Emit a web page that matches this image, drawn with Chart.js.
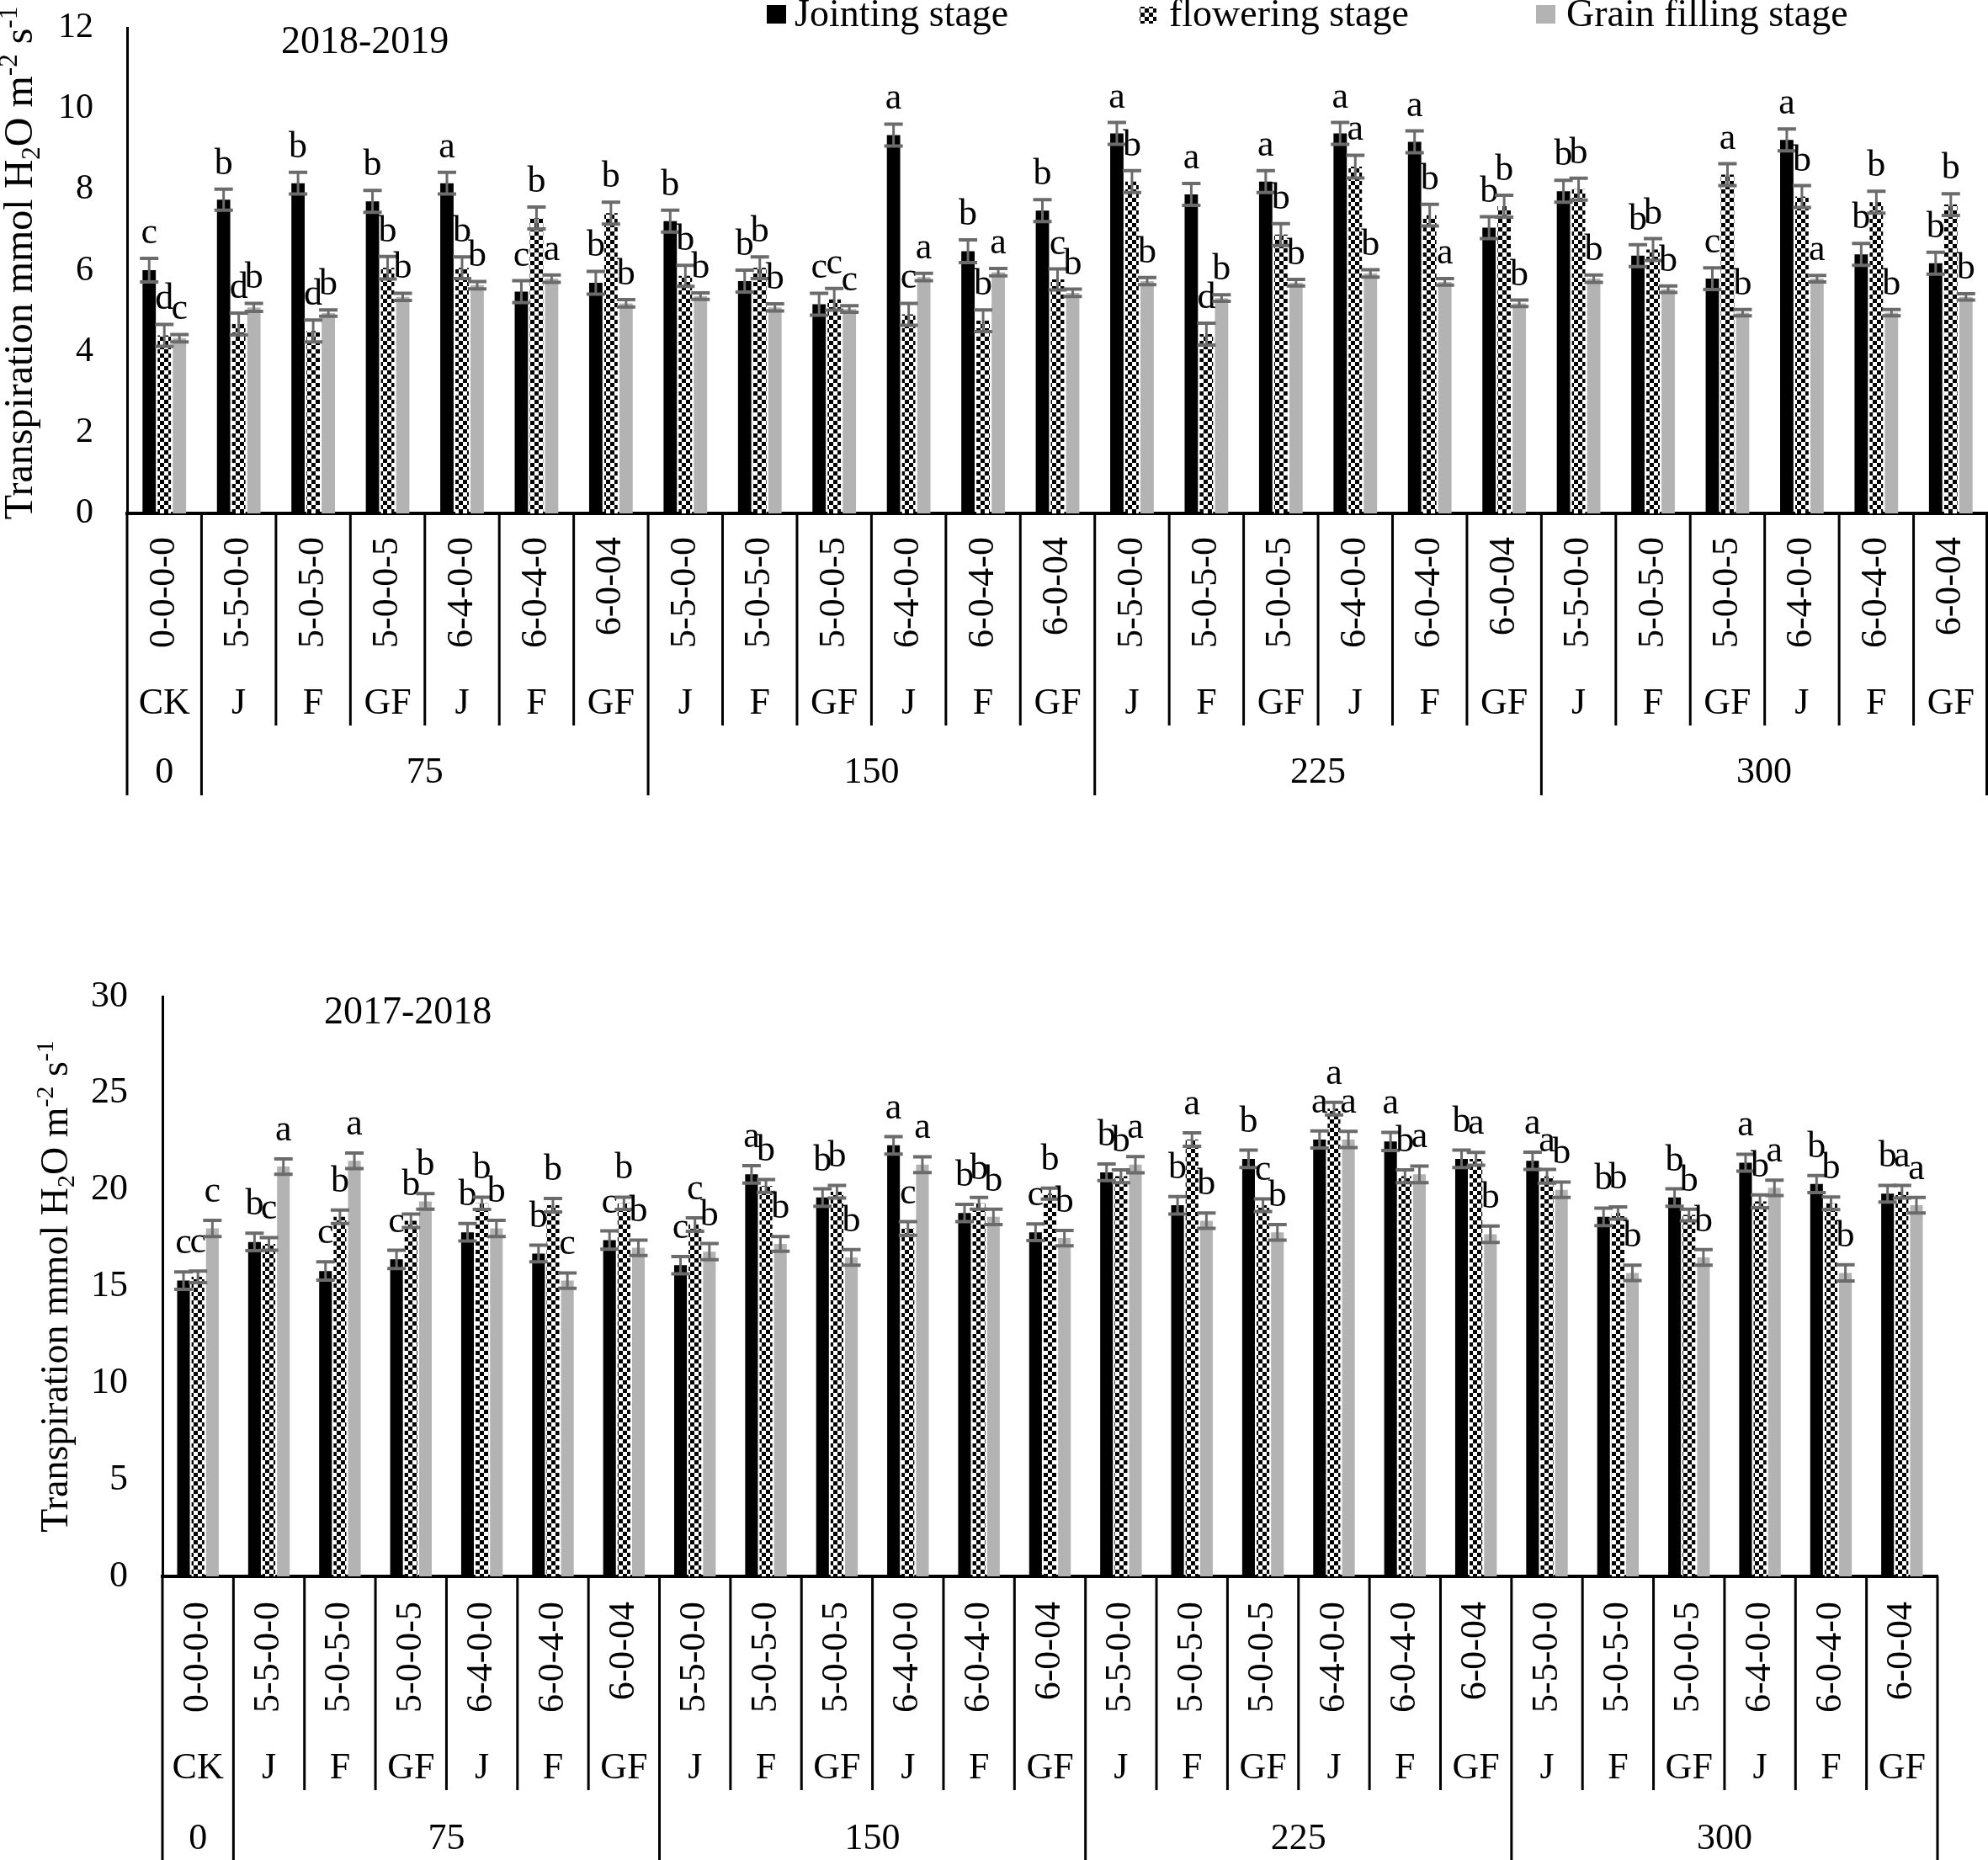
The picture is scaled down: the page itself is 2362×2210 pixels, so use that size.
<!DOCTYPE html>
<html>
<head>
<meta charset="utf-8">
<script src="https://cdn.jsdelivr.net/npm/chart.js@4.4.1/dist/chart.umd.min.js"></script>
<style>
html,body{margin:0;padding:0;background:#fff;}
body{width:2362px;height:2210px;position:relative;overflow:hidden;}
canvas{position:absolute;left:0;display:block;}
#c1{top:0;}
#c2{top:1150px;}
</style>
</head>
<body>
<canvas id="c1" width="2362" height="945"></canvas>
<canvas id="c2" width="2362" height="1060"></canvas>
<script>
// ---------------- DATA ----------------
const treatmentLabels = ['0-0-0-0',
  '5-5-0-0','5-0-5-0','5-0-0-5','6-4-0-0','6-0-4-0','6-0-04',
  '5-5-0-0','5-0-5-0','5-0-0-5','6-4-0-0','6-0-4-0','6-0-04',
  '5-5-0-0','5-0-5-0','5-0-0-5','6-4-0-0','6-0-4-0','6-0-04',
  '5-5-0-0','5-0-5-0','5-0-0-5','6-4-0-0','6-0-4-0','6-0-04'];
const stageLabels = ['CK',
  'J','F','GF','J','F','GF',
  'J','F','GF','J','F','GF',
  'J','F','GF','J','F','GF',
  'J','F','GF','J','F','GF'];
const nitrogenGroupLabels = ['0','75','150','225','300'];
const nitrogenGroupSizes = [1,6,6,6,6];
const seriesNames = ['Jointing stage','flowering stage','Grain filling stage'];

// 2018-2019
const y1819Jointing  = [6.01,7.75,8.16,7.71,8.16,5.48,5.70,7.22,5.74,5.17,9.35,6.48,7.48,9.39,7.88,8.20,9.39,9.18,7.06,7.96,6.37,5.80,9.23,6.40,6.18];
const y1819Flowering = [4.40,4.68,4.51,6.07,6.07,7.30,7.42,5.87,6.07,5.29,4.92,4.76,5.78,8.20,4.43,6.89,8.57,7.37,7.59,8.01,6.52,8.37,7.83,7.69,7.63];
const y1819Grain     = [4.33,5.09,4.95,5.35,5.64,5.80,5.19,5.37,5.09,5.05,5.84,5.96,5.45,5.74,5.32,5.70,5.93,5.72,5.19,5.80,5.54,4.96,5.80,4.96,5.35];
const e1819Jointing  = [0.29,0.26,0.27,0.27,0.27,0.27,0.28,0.27,0.27,0.27,0.27,0.28,0.27,0.27,0.27,0.27,0.27,0.27,0.27,0.27,0.27,0.27,0.27,0.27,0.27];
const e1819Flowering = [0.27,0.27,0.27,0.28,0.27,0.27,0.27,0.26,0.27,0.27,0.27,0.27,0.26,0.27,0.27,0.27,0.28,0.27,0.27,0.27,0.27,0.27,0.27,0.27,0.27];
const e1819Grain     = [0.09,0.10,0.08,0.09,0.09,0.09,0.09,0.08,0.09,0.08,0.09,0.09,0.09,0.09,0.08,0.08,0.09,0.08,0.08,0.09,0.08,0.08,0.08,0.08,0.08];
const l1819Jointing  = ['c','b','b','b','a','c','b','b','b','c','a','b','b','a','a','a','a','a','b','b','b','c','a','b','b'];
const l1819Flowering = ['d','d','d','b','b','b','b','b','b','c','c','b','c','b','d','b','a','b','b','b','b','a','b','b','b'];
const l1819Grain     = ['c','b','b','b','b','a','b','b','b','c','a','a','b','b','b','b','b','a','b','b','b','b','a','b','b'];

// 2017-2018
const y1718Jointing  = [15.3,17.3,15.8,16.4,17.8,16.7,17.4,16.1,20.8,19.6,22.3,18.8,17.8,20.9,19.2,21.6,22.6,22.5,21.6,21.5,18.6,19.6,21.4,20.3,19.8];
const y1718Flowering = [15.5,17.2,18.6,18.4,19.3,19.2,19.3,18.2,20.2,19.9,18.0,19.3,19.8,20.7,22.6,19.2,24.2,20.7,21.6,20.7,18.8,18.7,19.4,19.3,19.9];
const y1718Grain     = [18.0,21.2,21.5,19.4,18.0,15.3,17.0,16.8,17.2,16.5,21.3,18.6,17.5,21.3,18.4,17.8,22.6,20.8,17.7,20.0,15.7,16.5,20.1,15.7,19.2];
const e1718Jointing  = [0.45,0.45,0.47,0.47,0.45,0.43,0.47,0.45,0.45,0.45,0.45,0.45,0.43,0.43,0.45,0.45,0.44,0.47,0.45,0.45,0.45,0.45,0.44,0.44,0.43];
const e1718Flowering = [0.30,0.33,0.35,0.35,0.32,0.35,0.32,0.35,0.33,0.33,0.35,0.30,0.28,0.33,0.35,0.33,0.33,0.33,0.33,0.35,0.32,0.30,0.33,0.33,0.33];
const e1718Grain     = [0.42,0.40,0.40,0.40,0.42,0.40,0.40,0.42,0.38,0.40,0.41,0.40,0.40,0.42,0.40,0.40,0.42,0.43,0.42,0.40,0.40,0.40,0.40,0.42,0.40];
const l1718Jointing  = ['c','b','c','c','b','b','c','c','a','b','a','b','c','b','b','b','a','a','b','a','b','b','a','b','b'];
const l1718Flowering = ['c','c','b','b','b','b','b','c','b','b','c','b','b','b','a','c','a','b','a','a','b','b','b','b','a'];
const l1718Grain     = ['c','a','a','b','b','c','b','b','b','b','a','b','b','a','b','b','a','a','b','b','b','b','a','b','a'];

// ---------------- STYLE / PLUGINS ----------------
const FONT = '"Liberation Serif", "Times New Roman", serif';
Chart.defaults.font.family = FONT;
Chart.defaults.color = '#000';

function checkerPattern(ctx) {
  const t = document.createElement('canvas');
  t.width = 10; t.height = 10;
  const g = t.getContext('2d');
  g.fillStyle = '#fff'; g.fillRect(0,0,10,10);
  g.fillStyle = '#000'; g.fillRect(0,0,5,5); g.fillRect(5,5,5,5);
  return ctx.createPattern(t, 'repeat');
}

const errorLetterPlugin = {
  id: 'errLetters',
  afterDatasetsDraw(chart, args, o) {
    const ctx = chart.ctx, y = chart.scales.y;
    chart.data.datasets.forEach((ds, di) => {
      const meta = chart.getDatasetMeta(di);
      meta.data.forEach((bar, i) => {
        const v = ds.data[i], e = ds.errors[i];
        const yt = y.getPixelForValue(v + e), yb = y.getPixelForValue(v - e);
        const cw = o.capWidth / 2;
        ctx.save();
        ctx.strokeStyle = '#6b6b6b';
        ctx.lineWidth = 3;
        ctx.beginPath(); ctx.moveTo(bar.x, yt); ctx.lineTo(bar.x, yb); ctx.stroke();
        ctx.lineWidth = 4;
        ctx.beginPath();
        ctx.moveTo(bar.x - cw, yt); ctx.lineTo(bar.x + cw, yt);
        ctx.moveTo(bar.x - cw, yb); ctx.lineTo(bar.x + cw, yb);
        ctx.stroke();
        ctx.fillStyle = '#000';
        ctx.font = o.letterSize + 'px ' + FONT;
        ctx.textAlign = 'center';
        ctx.textBaseline = 'alphabetic';
        ctx.fillText(ds.letters[i], bar.x, yt - o.letterGap);
        ctx.restore();
      });
    });
  }
};

const tablePlugin = {
  id: 'xTable',
  afterDraw(chart, args, o) {
    const ctx = chart.ctx, x = chart.scales.x;
    const n = chart.data.labels.length;
    const axisY = chart.chartArea.bottom;
    const right = Math.min(x.right, chart.width - 1.5);
    const edge = i => i === 0 ? x.left : (i === n ? right : (x.getPixelForValue(i - 1) + x.getPixelForValue(i)) / 2);
    const groupEdges = new Set([0]);
    let acc = 0;
    nitrogenGroupSizes.forEach(s => { acc += s; groupEdges.add(acc); });
    ctx.save();
    ctx.strokeStyle = '#000';
    ctx.lineWidth = 3;
    for (let i = 0; i <= n; i++) {
      const xx = edge(i);
      ctx.beginPath();
      ctx.moveTo(xx, axisY);
      ctx.lineTo(xx, groupEdges.has(i) ? o.bottom : o.stageBottom);
      ctx.stroke();
    }
    ctx.fillStyle = '#000';
    ctx.font = o.size + 'px ' + FONT;
    ctx.textAlign = 'center';
    ctx.textBaseline = 'alphabetic';
    stageLabels.forEach((s, i) => ctx.fillText(s, x.getPixelForValue(i), o.stageBase));
    acc = 0;
    nitrogenGroupLabels.forEach((g, k) => {
      const a = edge(acc), b = edge(acc + nitrogenGroupSizes[k]);
      ctx.fillText(g, (a + b) / 2, o.groupBase);
      acc += nitrogenGroupSizes[k];
    });
    ctx.restore();
  }
};

const yTitlePlugin = {
  id: 'richYTitle',
  afterDraw(chart, args, o) {
    const ctx = chart.ctx, ca = chart.chartArea;
    const big = o.size, small = Math.round(o.size * 0.65);
    const parts = [['Transpiration mmol H', 0], ['2', -1], ['O m', 0], ['-2', 1], [' s', 0], ['-1', 1]];
    ctx.save();
    let total = 0;
    const widths = parts.map(p => {
      ctx.font = (p[1] ? small : big) + 'px ' + FONT;
      const w = ctx.measureText(p[0]).width; total += w; return w;
    });
    ctx.translate(o.x, (ca.top + ca.bottom) / 2 + o.dy);
    ctx.rotate(-Math.PI / 2);
    ctx.fillStyle = '#000';
    ctx.textAlign = 'left';
    ctx.textBaseline = 'alphabetic';
    let cx = -total / 2;
    parts.forEach((p, k) => {
      ctx.font = (p[1] ? small : big) + 'px ' + FONT;
      const off = p[1] === -1 ? big * 0.18 : (p[1] === 1 ? -big * 0.38 : 0);
      ctx.fillText(p[0], cx, off);
      cx += widths[k];
    });
    ctx.restore();
  }
};

const legendAndYearPlugin = {
  id: 'legendYear',
  afterDraw(chart, args, o) {
    const ctx = chart.ctx;
    ctx.save();
    ctx.fillStyle = '#000';
    ctx.textAlign = 'left';
    ctx.textBaseline = 'alphabetic';
    ctx.font = o.yearSize + 'px ' + FONT;
    ctx.fillText(o.year, o.yearX, o.yearBase);
    if (o.items) {
      chart.data.datasets.forEach((ds, i) => {
        const it = o.items[i];
        ctx.fillStyle = ds.backgroundColor;
        ctx.fillRect(it.x, it.y, it.w, it.h);
        ctx.fillStyle = '#000';
        ctx.font = o.legendSize + 'px ' + FONT;
        ctx.fillText(ds.label, it.tx, o.legendBase);
      });
    }
    ctx.restore();
  }
};

function buildChart(id, d, L) {
  const canvas = document.getElementById(id);
  const ctx = canvas.getContext('2d');
  const pattern = checkerPattern(ctx);
  return new Chart(ctx, {
    type: 'bar',
    data: {
      labels: treatmentLabels,
      datasets: [
        { label: seriesNames[0], data: d.j, errors: d.ej, letters: d.lj, backgroundColor: '#000000' },
        { label: seriesNames[1], data: d.f, errors: d.ef, letters: d.lf, backgroundColor: pattern },
        { label: seriesNames[2], data: d.g, errors: d.eg, letters: d.lg, backgroundColor: '#b3b3b3' }
      ]
    },
    options: {
      responsive: false,
      animation: false,
      devicePixelRatio: 1,
      layout: { padding: { top: L.top, right: L.right, left: 0, bottom: 0 } },
      datasets: { bar: { categoryPercentage: 0.61, barPercentage: 0.88, borderWidth: 0 } },
      scales: {
        x: {
          grid: { display: false, drawTicks: false },
          border: { display: true, color: '#000', width: 4 },
          ticks: { autoSkip: false, minRotation: 90, maxRotation: 90, padding: L.tickPad,
                   font: { size: 44, family: FONT }, color: '#000' },
          afterFit(s) { s.height = L.xHeight; s.paddingLeft = 0; s.paddingRight = 0; }
        },
        y: {
          min: 0, max: L.yMax,
          grid: { display: false, drawTicks: false },
          border: { display: true, color: '#000', width: 3 },
          ticks: { stepSize: L.yStep, padding: L.yPad, font: { size: L.yFont, family: FONT }, color: '#000' },
          afterFit(s) { s.width = L.yWidth; s.paddingTop = 0; s.paddingBottom = 0; }
        }
      },
      plugins: {
        legend: { display: false },
        tooltip: { enabled: false },
        errLetters: { capWidth: 22, letterSize: 44, letterGap: L.letterGap },
        xTable: L.table,
        richYTitle: L.title,
        legendYear: L.legendYear
      }
    },
    plugins: [errorLetterPlugin, tablePlugin, yTitlePlugin, legendAndYearPlugin]
  });
}

buildChart('c1',
  { j: y1819Jointing, f: y1819Flowering, g: y1819Grain,
    ej: e1819Jointing, ef: e1819Flowering, eg: e1819Grain,
    lj: l1819Jointing, lf: l1819Flowering, lg: l1819Grain },
  { top: 33, right: 0, xHeight: 335, yWidth: 151, yMax: 12, yStep: 2, yPad: 40, yFont: 42,
    tickPad: 28, letterGap: 18,
    table: { stageBottom: 862, bottom: 945, stageBase: 848, groupBase: 930, size: 44 },
    title: { x: 38, dy: -9, size: 48 },
    legendYear: { year: '2018-2019', yearX: 334, yearBase: 63, yearSize: 46,
      legendSize: 46, legendBase: 31,
      items: [ { x: 911, y: 6, w: 23, h: 22, tx: 944 },
               { x: 1354, y: 8, w: 20, h: 20, tx: 1389 },
               { x: 1825, y: 6, w: 23, h: 22, tx: 1861 } ] } });

buildChart('c2',
  { j: y1718Jointing, f: y1718Flowering, g: y1718Grain,
    ej: e1718Jointing, ef: e1718Flowering, eg: e1718Grain,
    lj: l1718Jointing, lf: l1718Flowering, lg: l1718Grain },
  { top: 34, right: 60, xHeight: 337, yWidth: 193, yMax: 30, yStep: 5, yPad: 41, yFont: 44,
    tickPad: 30, letterGap: 22,
    table: { stageBottom: 977, bottom: 1060, stageBase: 963, groupBase: 1047, size: 44 },
    title: { x: 80, dy: 0, size: 46 },
    legendYear: { year: '2017-2018', yearX: 385, yearBase: 66, yearSize: 46 } });
</script>
</body>
</html>
